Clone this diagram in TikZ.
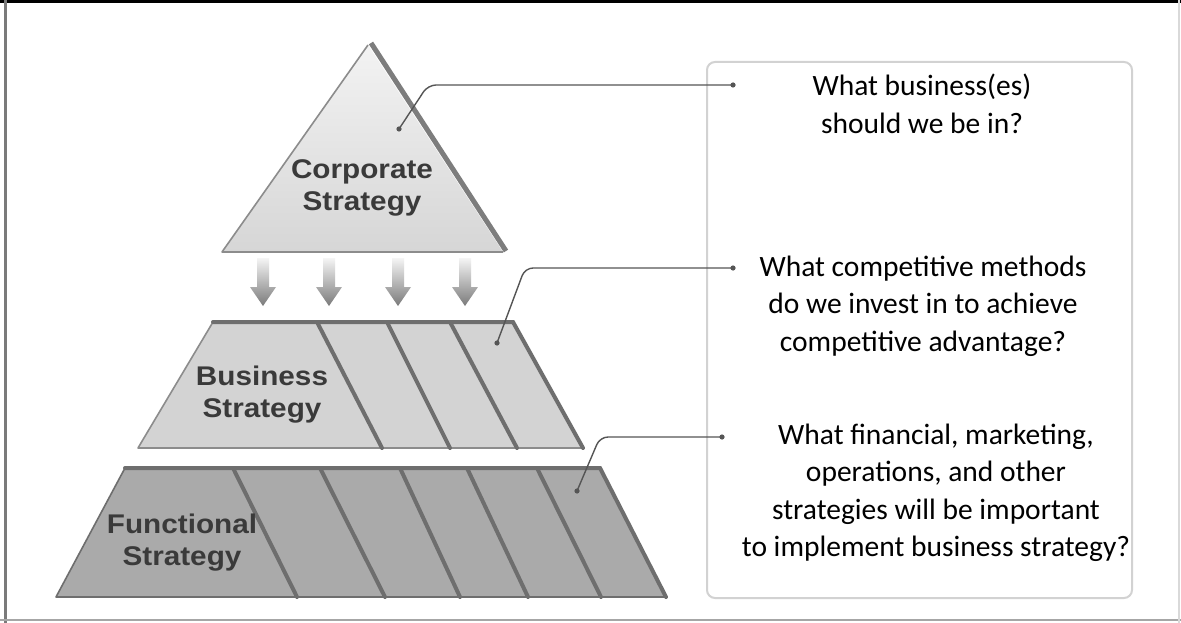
\documentclass[tikz,border=0pt]{standalone}
\usepackage{fontspec}
\setmainfont{Carlito}
\newfontfamily\labelfont[FakeStretch=1.1]{Liberation Sans Bold}
\definecolor{framegray}{HTML}{7A7A7A}
\definecolor{edgegray}{HTML}{8C8C8C}
\definecolor{darkedge}{HTML}{6E6E6E}
\definecolor{busfill}{HTML}{D3D3D3}
\definecolor{funfill}{HTML}{AAAAAA}
\definecolor{labeltext}{HTML}{3A3A3A}
\definecolor{leader}{HTML}{555555}
\definecolor{boxgray}{HTML}{D2D2D2}
\definecolor{trifill}{HTML}{D6D6D6}
\tikzset{
  thinedge/.style={draw=edgegray, line width=1.6pt, line join=round},
  thickedge/.style={draw=darkedge, line width=4pt, line cap=round},
  levellabel/.style={font=\labelfont\fontsize{27}{32}\selectfont, text=labeltext, align=center},
  question/.style={font=\fontsize{29.5}{37.5}\selectfont, text=black, align=center},
  leaderline/.style={draw=leader, line width=1.4pt, rounded corners=8pt},
  leaderdot/.style={fill=leader},
  downarrow/.style={top color=white!92!gray, bottom color=framegray, draw=none}
}
\begin{document}
\begin{tikzpicture}[x=1pt,y=-1pt]
\useasboundingbox (0,0) rectangle (1181,623);
\fill[white] (0,0) rectangle (1181,623);
% frame
\fill[black] (0,0) rectangle (1181,3);
\fill[framegray] (4,0) rectangle (7,623);
\fill[gray!70] (0,619) rectangle (1181,621);
\fill[gray!30] (1178,0) rectangle (1180,623);
% answer box
\draw[boxgray, line width=2pt, rounded corners=8pt] (707,62) rectangle (1132,598);

% corporate triangle
\shade[top color=white!70!trifill, bottom color=trifill] (368,45) -- (503,252) -- (222,252) -- cycle;
\draw[thinedge] (503,252) -- (222,252) -- (368,45);
\draw[draw=darkedge!90, line width=5pt] (371,43) -- (506,251);
\node[levellabel] (corp) at (362,188) {Corporate\\Strategy};

% arrows
\foreach \c in {263,329,398,465}{
  \shade[downarrow] (\c-6,258) -- (\c+6,258) -- (\c+6,287) -- (\c+13,287) -- (\c,306) -- (\c-13,287) -- (\c-6,287) -- cycle;
}

% business level
\fill[busfill] (213,322) -- (513,322) -- (583,448) -- (138,448) -- cycle;
\draw[thinedge] (213,322) -- (138,448) -- (583,448);
\draw[thickedge] (213,322) -- (513,322) -- (583,448);
\draw[thickedge] (317,322) -- (382,448);
\draw[thickedge] (387,322) -- (450,448);
\draw[thickedge] (450,322) -- (517,448);
\node[levellabel] (bus) at (262,395) {Business\\Strategy};

% functional level
\fill[funfill] (125,468) -- (600,468) -- (666,597) -- (56,597) -- cycle;
\draw[thinedge, draw=darkedge] (125,468) -- (56,597) -- (666,597);
\draw[thickedge] (125,468) -- (600,468) -- (666,597);
\draw[thickedge] (233,468) -- (297,597);
\draw[thickedge] (320,468) -- (385,597);
\draw[thickedge] (400,468) -- (460,597);
\draw[thickedge] (467,468) -- (528,597);
\draw[thickedge] (537,468) -- (601,597);
\node[levellabel] (fun) at (182,543) {Functional\\Strategy};

% questions
\node[question] (q1) at (922,104) {What business(es)\\should we be in?};
\node[question] (q2) at (923,306) {What competitive methods\\do we invest in to achieve\\competitive advantage?};
\node[question] (q3) at (936,493) {What financial, marketing,\\operations, and other\\strategies will be important\\to implement business strategy?};

% leaders
\coordinate (d1a) at (399,129);
\coordinate (d1b) at (733,85);
\coordinate (d2a) at (497,343);
\coordinate (d2b) at (733,268);
\coordinate (d3a) at (577,491);
\coordinate (d3b) at (722,437);
\draw[leaderline] (d1a) -- (428,85) -- (d1b);
\draw[leaderline] (d2a) -- (525,268) -- (d2b);
\draw[leaderline] (d3a) -- (600,437) -- (d3b);
\foreach \d in {d1a,d1b,d2a,d2b,d3a,d3b}{
  \fill[leaderdot] (\d) circle (2.6pt);
}
\end{tikzpicture}
\end{document}
